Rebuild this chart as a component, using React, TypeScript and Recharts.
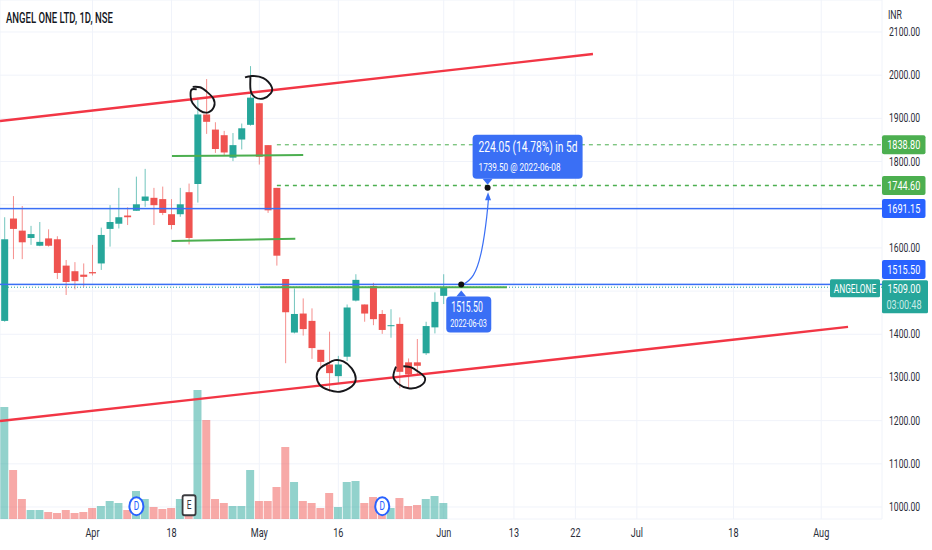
import { Bar, CartesianGrid, Cell, ComposedChart, Line, ReferenceDot, ReferenceLine, XAxis, YAxis } from 'recharts';

const GREEN = '#26a69a';
const RED = '#ef5350';
const BLUE = '#3a6ff5';
const TAG_GREEN = '#4caf50';
const FONT = 'Roboto, sans-serif';
const BODY_WIDTH = 7;

const opens = [1431, 1668, 1640, 1623, 1605, 1622, 1620, 1559, 1546, 1538, 1544, 1564, 1644, 1656, 1675, 1686, 1709, 1716, 1713, 1678, 1678, 1729, 1748, 1909, 1874, 1861, 1809, 1851, 1885, 1935, 1838, 1739, 1528, 1404, 1448, 1431, 1364, 1330, 1303, 1348, 1478, 1469, 1512, 1447, 1420, 1424, 1335, 1335, 1356, 1416, 1489];
const highs = [1671, 1720, 1697, 1651, 1660, 1643, 1627, 1572, 1567, 1564, 1607, 1647, 1699, 1739, 1694, 1765, 1783, 1739, 1742, 1713, 1739, 1749, 1948, 1991, 1891, 1871, 1866, 1888, 2021, 1935, 1838, 1739, 1528, 1506, 1483, 1460, 1364, 1406, 1350, 1469, 1539, 1469, 1519, 1456, 1458, 1439, 1344, 1389, 1429, 1497, 1539];
const lows = [1429, 1574, 1574, 1607, 1604, 1603, 1528, 1491, 1504, 1510, 1536, 1549, 1603, 1645, 1653, 1686, 1695, 1653, 1676, 1643, 1672, 1608, 1705, 1864, 1820, 1815, 1801, 1828, 1883, 1793, 1681, 1559, 1333, 1402, 1397, 1343, 1325, 1267, 1286, 1338, 1476, 1429, 1421, 1401, 1392, 1275, 1275, 1306, 1352, 1402, 1470];
const closes = [1620, 1644, 1613, 1632, 1614, 1605, 1542, 1521, 1523, 1533, 1541, 1630, 1660, 1671, 1671, 1701, 1719, 1699, 1681, 1653, 1701, 1623, 1909, 1892, 1829, 1821, 1838, 1877, 1948, 1811, 1687, 1582, 1451, 1447, 1412, 1368, 1336, 1310, 1330, 1462, 1526, 1448, 1435, 1410, 1421, 1313, 1307, 1327, 1419, 1475, 1509];
const volumes = [112, 49, 20, 9, 9, 7, 6, 9, 6, 7, 11, 13, 18, 16, 9, 28, 20, 12, 10, 11, 20, 7, 129, 99, 20, 16, 13, 13, 49, 18, 18, 32, 72, 37, 18, 16, 11, 26, 12, 37, 38, 16, 22, 5, 11, 21, 13, 14, 20, 23, 16];

const dateTicks = [10, 19, 29, 38, 50, 58, 65, 72, 83, 93];
const dateLabels = ['Apr', '18', 'May', '16', 'Jun', '13', '22', 'Jul', '18', 'Aug'];
const priceTicks = [1000, 1100, 1200, 1300, 1400, 1500, 1600, 1700, 1800, 1900, 2000, 2100];
// these two sit behind the price tags in the reference
const hiddenPriceLabels = [1500, 1700];

const xDomain = [-0.535, 99.92];
const priceDomain = [972.2, 2174.1];
const volumeDomain = [0, 519];

// index, price
const upperTrend = [[-0.535, 1894], [67, 2049]];
const lowerTrend = [[-0.535, 1199], [96.05, 1417]];
const necklines = [
  [[19.05, 1813], [34, 1815]],
  [[19, 1616], [33.1, 1621]],
  [[29.1, 1509], [57.2, 1509]],
];
const targetLines = [[31, 1838.8], [31, 1744.6]];
const arrowCurve = [[52.12, 1514], [53.38, 1537], [54.33, 1595], [54.9, 1672], [55.12, 1719]];

const inkStrokes = [
  [[21.87, 1967], [21.26, 1966], [21.18, 1950], [21.41, 1935], [22.25, 1918], [23.19, 1914], [23.84, 1927], [23.76, 1946], [23, 1962], [22.25, 1972], [21.41, 1973]],
  [[27.37, 1995], [28.13, 1998], [29.46, 1993], [30.4, 1973], [30.3, 1958], [29.46, 1946], [28.51, 1949], [28, 1966], [28, 2000]],
  [[36.86, 1333], [35.91, 1321], [35.53, 1302], [35.91, 1282], [36.86, 1271], [38.19, 1267], [39.52, 1279], [39.98, 1298], [39.52, 1321], [38.57, 1337], [37.6, 1340], [36.86, 1333]],
  [[44.57, 1325], [44.27, 1302], [44.84, 1285], [45.98, 1275], [47.31, 1280], [47.88, 1298], [47.12, 1313], [46.36, 1323], [45.4, 1326]],
];

const candles = opens.map((open, i) => ({
  index: i,
  open,
  high: highs[i],
  low: lows[i],
  close: closes[i],
  range: [lows[i], highs[i]],
  volume: volumes[i],
}));

const toPoints = (list: number[][]) => list.map(([index, price]) => ({ index, price }));

// narrow text, the reference is squeezed horizontally
const Txt = ({ x, y, size = 12, fill = '#131722', anchor = 'start', weight = 400, sx = 0.7, children }: any) => (
  <text
    transform={`translate(${x} ${y}) scale(${sx} 1)`}
    fontFamily={FONT}
    fontSize={size}
    fontWeight={weight}
    fill={fill}
    textAnchor={anchor}
  >
    {children}
  </text>
);

const Candle = (props: any) => {
  const { x, y, width, height, payload } = props;
  const { open, close, high, low } = payload;
  const color = close >= open ? GREEN : RED;
  const perPrice = height / (high - low);
  const top = y + (high - Math.max(open, close)) * perPrice;
  const bodyHeight = Math.max(Math.abs(open - close) * perPrice, 1);
  const mid = x + width / 2;
  return (
    <g>
      <line x1={mid} x2={mid} y1={y} y2={y + height} stroke={color} strokeOpacity={0.65} strokeWidth={1} />
      <rect x={mid - BODY_WIDTH / 2} y={top} width={BODY_WIDTH} height={bodyHeight} fill={color} />
    </g>
  );
};

const PriceTick = ({ x, y, payload }: any) =>
  hiddenPriceLabels.includes(payload.value) ? null : (
    <Txt x={x - 1} y={y + 4} size={13} sx={0.66} fill="#2a2e39">{payload.value}.00</Txt>
  );

const DateTick = ({ x, y, payload }: any) => (
  <Txt x={x} y={y + 10} size={13} anchor="middle" fill="#2a2e39">{dateLabels[dateTicks.indexOf(payload.value)]}</Txt>
);

const priceTag = (label: string, fill: string, shift = 0) => ({ cx, cy }: any) => (
  <g>
    <rect x={cx} y={cy - 9.5 + shift} width={43.5} height={19} rx={2} fill={fill} />
    <Txt x={cx + 21.75} y={cy + 4.5 + shift} size={13} sx={0.7} fill="#fff" anchor="middle">{label}</Txt>
  </g>
);

const lastPriceTag = ({ cx, cy }: any) => (
  <g>
    <rect x={cx - 52} y={cy - 8} width={50} height={18} rx={1.5} fill={GREEN} />
    <Txt x={cx - 27} y={cy + 5.5} size={13} sx={0.64} fill="#fff" anchor="middle">ANGELONE</Txt>
    <rect x={cx} y={cy - 7} width={46} height={33} rx={1.5} fill={GREEN} />
    <Txt x={cx + 22} y={cy + 6} size={13} sx={0.7} fill="#fff" anchor="middle">1509.00</Txt>
    <Txt x={cx + 22} y={cy + 22} size={13} sx={0.7} fill="#c8ebe7" anchor="middle">03:00:48</Txt>
  </g>
);

const targetBubble = ({ cx, cy }: any) => (
  <g>
    <path d={`M${cx - 5} ${cy - 9} L${cx + 5} ${cy - 9} L${cx} ${cy - 3} z`} fill={BLUE} />
    <rect x={cx - 15} y={cy - 53} width={110} height={44} rx={4} fill={BLUE} />
    <Txt x={cx - 9} y={cy - 36} size={14} sx={0.73} fill="#fff">224.05 (14.78%) in 5d</Txt>
    <Txt x={cx - 9} y={cy - 17} size={11} sx={0.74} fill="#fff">1739.50 @ 2022-06-08</Txt>
  </g>
);

const startBubble = ({ cx, cy }: any) => (
  <g>
    <path d={`M${cx - 5} ${cy + 12} L${cx + 5} ${cy + 12} L${cx} ${cy + 6} z`} fill={BLUE} />
    <rect x={cx - 15} y={cy + 12} width={45} height={36} rx={4} fill={BLUE} />
    <Txt x={cx - 10} y={cy + 28} size={14} sx={0.62} fill="#fff">1515.50</Txt>
    <Txt x={cx - 11} y={cy + 43} size={11} sx={0.66} fill="#fff">2022-06-03</Txt>
  </g>
);

const arrowHead = ({ cx, cy }: any) => <path d={`M${cx} ${cy - 3} L${cx + 3} ${cy + 5} L${cx - 3} ${cy + 5} z`} fill={BLUE} />;

const dividendMark = ({ cx, cy }: any) => (
  <g>
    <ellipse cx={cx} cy={cy} rx={7} ry={9} fill="#fff" stroke="#2962ff" strokeWidth={2} />
    <Txt x={cx} y={cy + 4} size={12} fill="#2962ff" anchor="middle">D</Txt>
  </g>
);

const earningsMark = ({ cx, cy }: any) => (
  <g>
    <rect x={cx - 6.5} y={cy - 10} width={13} height={20} rx={2} fill="#fff" stroke="#3b3b3f" strokeWidth={1.8} />
    <Txt x={cx} y={cy + 4} size={12} fill="#3b3b3f" anchor="middle">E</Txt>
  </g>
);

const axisIds = { xAxisId: 'date', yAxisId: 'price' };

export default function App() {
  return (
    <div style={{ position: 'absolute', left: 0, top: 0, width: 932, height: 550, background: '#fff', overflow: 'hidden' }}>
      <ComposedChart width={932} height={550} data={candles} margin={{ top: 0, right: 0, bottom: 0, left: 0 }}>
        <CartesianGrid {...axisIds} stroke="#f0f3fa" strokeWidth={1} />
        <XAxis
          xAxisId="date"
          dataKey="index"
          type="number"
          domain={xDomain}
          allowDataOverflow
          ticks={dateTicks}
          interval={0}
          height={31}
          axisLine={false}
          tickLine={false}
          tick={DateTick}
        />
        <XAxis xAxisId="vol" dataKey="index" type="number" domain={xDomain} allowDataOverflow hide />
        <YAxis
          yAxisId="price"
          orientation="right"
          type="number"
          domain={priceDomain}
          allowDataOverflow
          ticks={priceTicks}
          interval={0}
          width={50}
          axisLine={false}
          tickLine={false}
          tick={PriceTick}
        />
        <YAxis yAxisId="volume" type="number" domain={volumeDomain} allowDataOverflow hide />

        <Bar xAxisId="vol" yAxisId="volume" dataKey="volume" barSize={8} isAnimationActive={false}>
          {candles.map((d) => (
            <Cell key={d.index} fill={d.close >= d.open ? GREEN : RED} fillOpacity={0.5} />
          ))}
        </Bar>

        <ReferenceLine {...axisIds} y={1691.15} stroke={BLUE} strokeOpacity={0.15} strokeWidth={3} />
        <ReferenceLine {...axisIds} y={1515.5} stroke={BLUE} strokeOpacity={0.15} strokeWidth={3} />
        <ReferenceLine {...axisIds} y={1691.15} stroke={BLUE} strokeWidth={1.2} />
        <ReferenceLine {...axisIds} y={1515.5} stroke={BLUE} strokeWidth={1.2} />
        <ReferenceLine {...axisIds} y={1509} stroke={GREEN} strokeDasharray="1 2" />
        {targetLines.map(([index, price], i) => (
          <ReferenceLine
            key={price}
            {...axisIds}
            segment={[{ x: index, y: price }, { x: xDomain[1], y: price }]}
            stroke={TAG_GREEN}
            strokeWidth={i === 1 ? 1.6 : 1}
            strokeDasharray="4 4"
          />
        ))}

        <Bar {...axisIds} dataKey="range" barSize={7} shape={Candle} isAnimationActive={false} />

        {necklines.map((seg, i) => (
          <ReferenceLine
            key={i}
            {...axisIds}
            segment={toPoints(seg).map((p) => ({ x: p.index, y: p.price }))}
            stroke={TAG_GREEN}
            strokeWidth={2}
          />
        ))}
        {[upperTrend, lowerTrend].map((seg, i) => (
          <ReferenceLine
            key={i}
            {...axisIds}
            segment={toPoints(seg).map((p) => ({ x: p.index, y: p.price }))}
            stroke="#f23645"
            strokeWidth={2.4}
          />
        ))}

        {inkStrokes.map((stroke, i) => (
          <Line
            key={i}
            {...axisIds}
            data={toPoints(stroke)}
            dataKey="price"
            type="natural"
            stroke="#16161a"
            strokeWidth={1.9}
            dot={false}
            activeDot={false}
            isAnimationActive={false}
          />
        ))}
        <Line
          {...axisIds}
          data={toPoints(arrowCurve)}
          dataKey="price"
          type="natural"
          stroke={BLUE}
          strokeWidth={1.2}
          dot={false}
          activeDot={false}
          isAnimationActive={false}
        />

        <ReferenceDot {...axisIds} x={55.05} y={1722} shape={arrowHead} ifOverflow="visible" />
        <ReferenceDot {...axisIds} x={52} y={1515.5} r={3} fill="#111" stroke="none" />
        <ReferenceDot {...axisIds} x={55} y={1739.5} r={3} fill="#111" stroke="none" />
        <ReferenceDot {...axisIds} x={52} y={1515.5} shape={startBubble} ifOverflow="visible" />
        <ReferenceDot {...axisIds} x={55} y={1739.5} shape={targetBubble} ifOverflow="visible" />

        <ReferenceDot {...axisIds} x={15} y={1002} shape={dividendMark} ifOverflow="visible" />
        <ReferenceDot {...axisIds} x={21} y={1004} shape={earningsMark} ifOverflow="visible" />
        <ReferenceDot {...axisIds} x={43} y={1002} shape={dividendMark} ifOverflow="visible" />

        <ReferenceDot {...axisIds} x={xDomain[1]} y={1838.8} shape={priceTag('1838.80', TAG_GREEN)} ifOverflow="visible" />
        <ReferenceDot {...axisIds} x={xDomain[1]} y={1744.6} shape={priceTag('1744.60', TAG_GREEN)} ifOverflow="visible" />
        <ReferenceDot {...axisIds} x={xDomain[1]} y={1691.15} shape={priceTag('1691.15', '#2962ff')} ifOverflow="visible" />
        <ReferenceDot {...axisIds} x={xDomain[1]} y={1515.5} shape={priceTag('1515.50', '#2962ff', -15)} ifOverflow="visible" />
        <ReferenceDot {...axisIds} x={xDomain[1]} y={1509} shape={lastPriceTag} ifOverflow="visible" />

        <Txt x={6} y={23} size={14} weight={500} sx={0.68}>ANGEL ONE LTD, 1D, NSE</Txt>
        <Txt x={888} y={19} size={12.5} fill="#2a2e39">INR</Txt>
      </ComposedChart>
    </div>
  );
}
